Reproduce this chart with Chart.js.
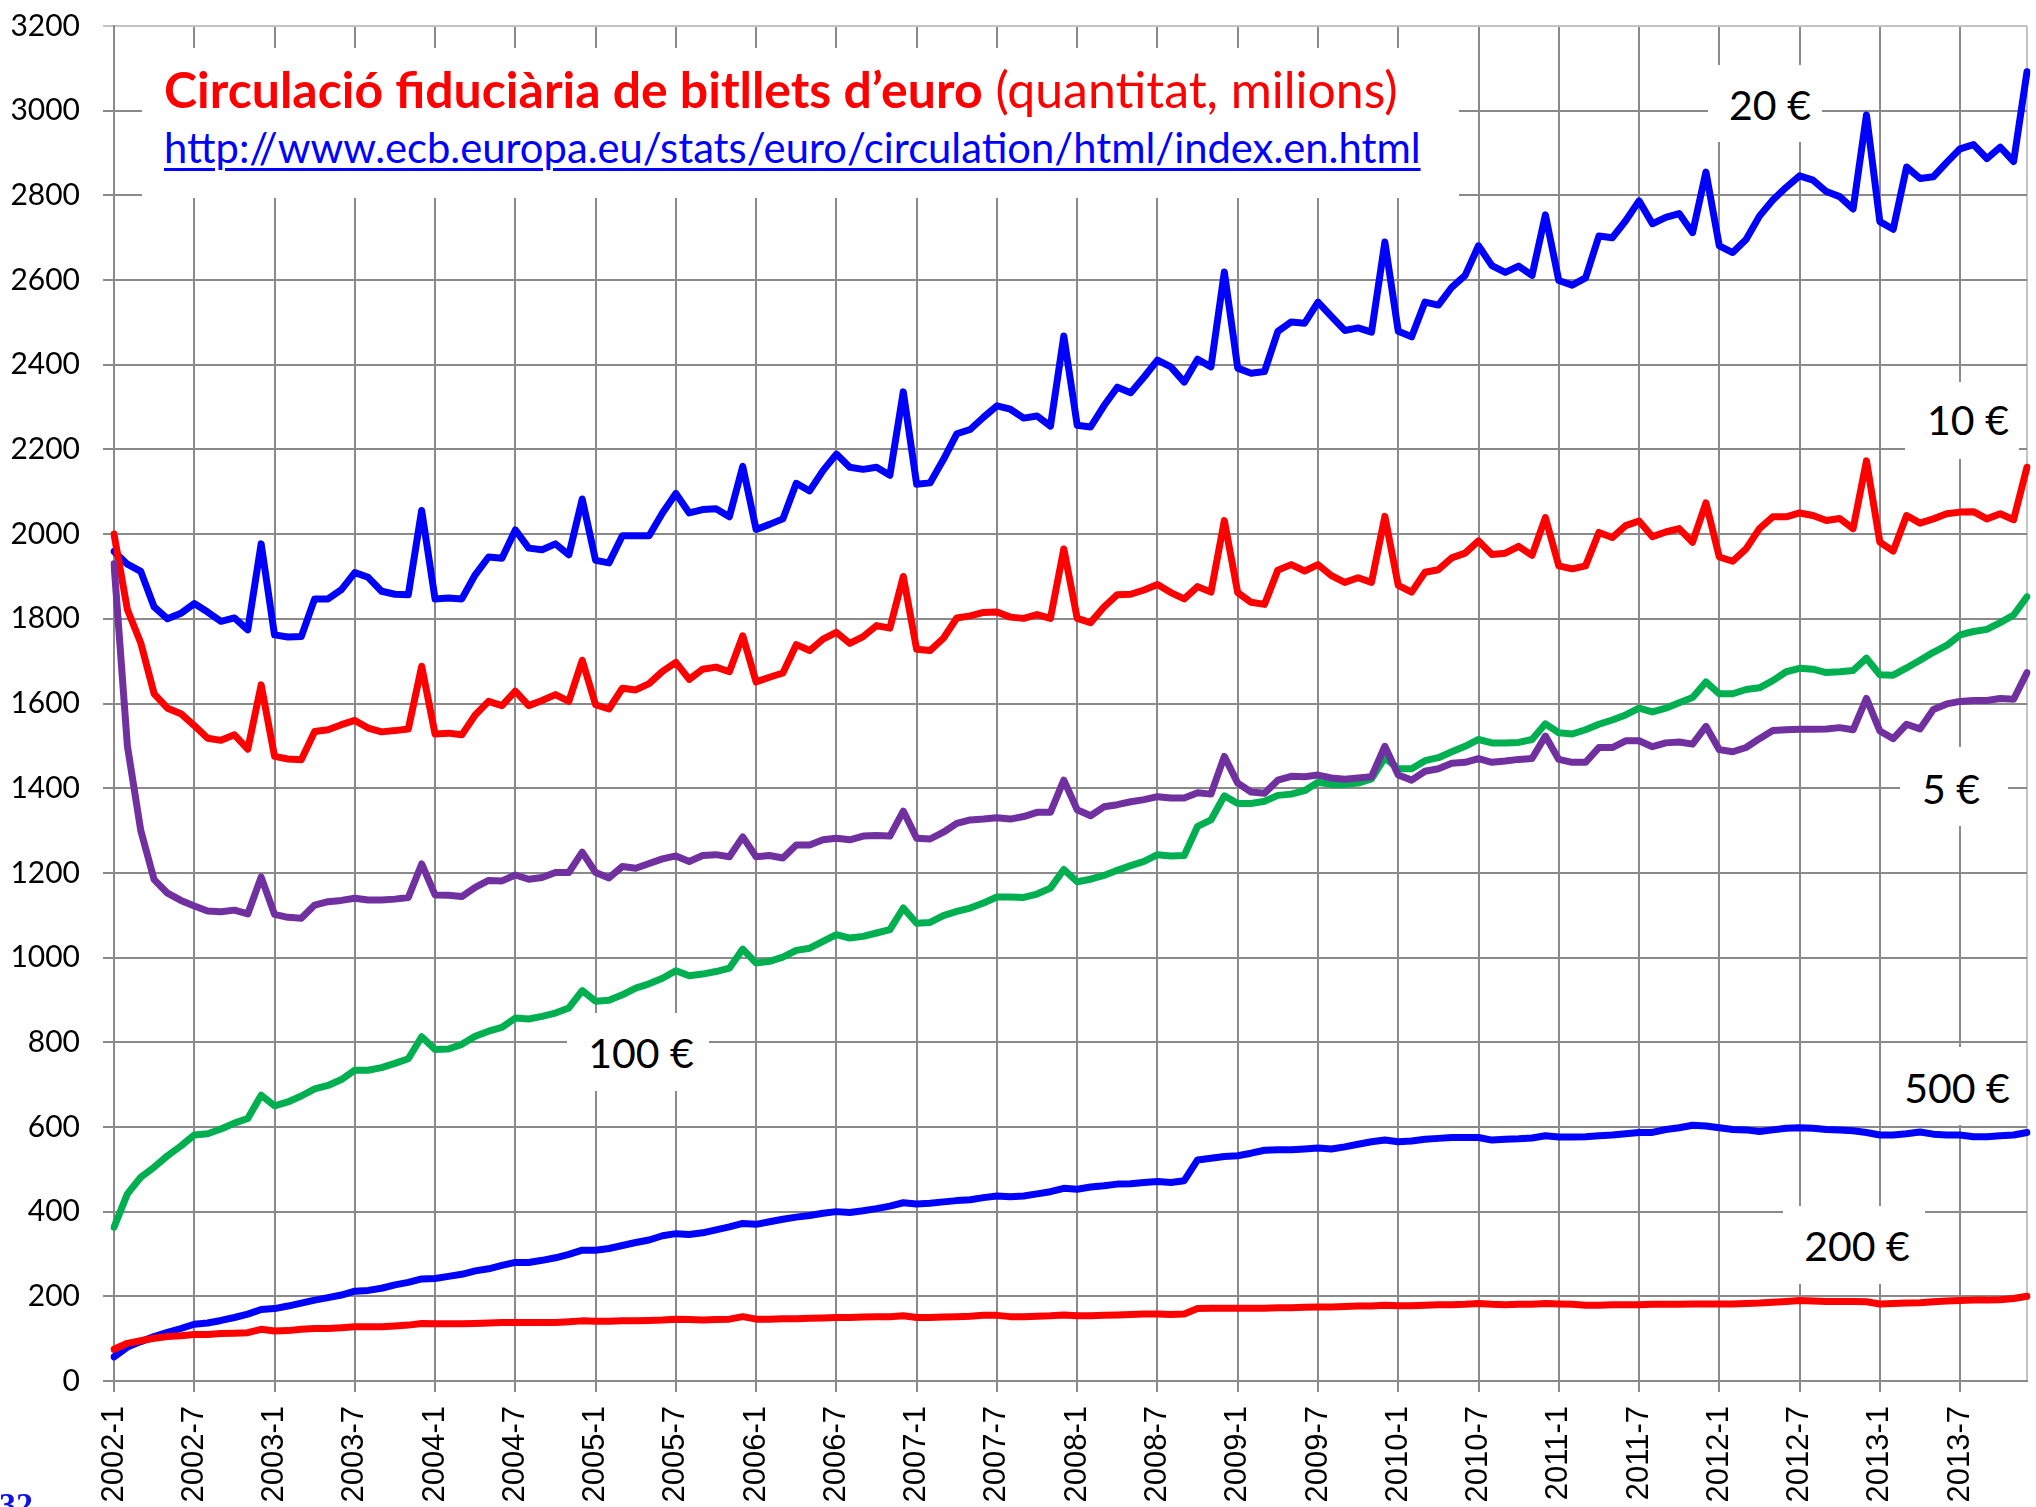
<!DOCTYPE html>
<html>
<head>
<meta charset="utf-8">
<script src="https://cdn.jsdelivr.net/npm/chart.js@4.4.1/dist/chart.umd.min.js"></script>
<style>
  html, body { margin: 0; padding: 0; background: #fff; overflow: hidden; }
  #wrap { position: relative; width: 2036px; height: 1507px; overflow: hidden; }
  #chart { position: absolute; left: 0; top: 0; }
  .box { position: absolute; background: #fff; }
  .txt { position: absolute; white-space: nowrap; line-height: 1.2; font-family: Lato, "Noto Sans", sans-serif; }
</style>
</head>
<body>
<div id="wrap">
  <canvas id="chart" width="2036" height="1507"></canvas>
</div>
<script>
// ---- data (quantity of banknotes in circulation, millions) ----
const years = [2002, 2003, 2004, 2005, 2006, 2007, 2008, 2009, 2010, 2011, 2012, 2013];
const monthLabels = [];
years.forEach(y => { for (let m = 1; m <= 12; m++) monthLabels.push(y + '-' + m); });

const eur20 = [
  1959,1929,1912,1828,1800,1813,1836,1816,1794,1802,1774,1977,
  1762,1757,1758,1847,1847,1869,1909,1898,1865,1858,1857,2056,
  1847,1849,1847,1904,1946,1943,2010,1967,1963,1977,1951,2083,
  1938,1932,1996,1996,1996,2050,2096,2050,2058,2060,2041,2160,
  2011,2023,2036,2120,2102,2150,2189,2158,2153,2158,2139,2336,
  2118,2121,2176,2237,2247,2276,2303,2295,2274,2279,2255,2468,
  2257,2253,2303,2347,2334,2371,2411,2395,2359,2413,2395,2619,
  2392,2380,2384,2479,2501,2498,2548,2514,2481,2487,2477,2690,
  2479,2466,2548,2541,2583,2611,2681,2634,2618,2633,2611,2754,
  2599,2588,2605,2704,2700,2740,2787,2733,2748,2757,2712,2855,
  2681,2665,2696,2751,2789,2819,2846,2836,2809,2797,2768,2990,
  2738,2720,2867,2840,2844,2878,2910,2920,2887,2914,2880,3092
];
const eur10 = [
  2000,1822,1743,1623,1589,1576,1548,1518,1513,1526,1492,1644,
  1475,1469,1467,1534,1538,1550,1560,1542,1533,1536,1540,1688,
  1528,1530,1526,1573,1605,1595,1629,1595,1607,1621,1605,1702,
  1597,1587,1636,1632,1647,1676,1697,1657,1681,1686,1675,1760,
  1651,1662,1672,1739,1725,1752,1768,1742,1758,1784,1778,1900,
  1728,1725,1754,1802,1807,1815,1816,1804,1801,1810,1801,1965,
  1801,1791,1828,1857,1858,1868,1881,1862,1847,1876,1863,2032,
  1862,1839,1834,1915,1928,1913,1928,1902,1886,1897,1886,2042,
  1879,1863,1910,1916,1944,1955,1984,1952,1955,1971,1950,2039,
  1925,1918,1925,2004,1992,2020,2031,1994,2005,2013,1981,2074,
  1946,1936,1965,2013,2041,2041,2050,2044,2032,2037,2013,2173,
  1981,1960,2044,2026,2036,2048,2052,2053,2036,2048,2034,2158
];
const eur5 = [
  1930,1500,1300,1184,1152,1135,1122,1110,1108,1112,1103,1190,
  1102,1095,1093,1124,1132,1135,1140,1136,1136,1138,1142,1221,
  1148,1147,1144,1166,1182,1181,1195,1185,1189,1201,1201,1249,
  1201,1188,1215,1211,1222,1233,1240,1227,1241,1243,1238,1285,
  1238,1241,1235,1266,1266,1278,1282,1278,1287,1288,1287,1346,
  1282,1280,1296,1317,1325,1327,1330,1327,1333,1343,1343,1419,
  1349,1335,1356,1361,1368,1373,1380,1377,1377,1389,1386,1475,
  1412,1391,1388,1419,1428,1427,1431,1424,1421,1424,1427,1499,
  1431,1419,1440,1446,1459,1461,1470,1461,1464,1468,1470,1523,
  1468,1461,1461,1496,1496,1512,1512,1498,1507,1509,1504,1546,
  1491,1486,1496,1517,1536,1538,1539,1539,1540,1543,1538,1612,
  1535,1517,1551,1540,1586,1599,1605,1607,1607,1612,1610,1673
];
const eur100 = [
  363,442,481,505,532,555,581,584,595,609,620,675,
  650,659,673,690,698,712,734,734,740,750,761,813,
  783,784,795,814,826,835,857,855,861,869,881,922,
  897,899,912,928,938,951,969,957,961,967,975,1020,
  987,991,1001,1017,1022,1038,1054,1046,1050,1058,1066,1117,
  1081,1083,1099,1109,1117,1129,1143,1143,1142,1150,1164,1208,
  1179,1185,1194,1206,1217,1227,1243,1240,1241,1310,1325,1382,
  1364,1364,1369,1383,1386,1394,1414,1409,1409,1412,1422,1472,
  1446,1446,1465,1472,1486,1499,1515,1507,1507,1508,1515,1552,
  1531,1528,1538,1551,1561,1573,1589,1580,1589,1602,1614,1651,
  1623,1623,1633,1637,1654,1675,1683,1681,1673,1675,1678,1707,
  1668,1667,1684,1702,1721,1737,1762,1770,1775,1791,1809,1852
];
const eur500 = [
  57,80,93,105,115,124,134,137,143,150,158,169,
  171,177,184,191,197,203,212,214,219,227,233,241,
  242,247,252,260,265,273,280,280,285,291,299,309,
  309,313,320,327,333,343,348,346,350,357,364,372,
  370,376,382,387,391,396,400,398,402,407,413,421,
  418,420,423,426,428,433,437,435,437,442,447,455,
  453,458,461,465,466,469,471,469,473,522,526,530,
  532,538,545,546,546,548,550,548,553,559,565,569,
  565,567,571,573,575,575,575,569,571,572,574,579,
  576,576,577,579,581,584,587,587,594,598,604,602,
  598,594,593,589,593,597,598,597,594,593,591,587,
  581,581,584,588,583,581,581,577,577,579,581,587
];
const eur200 = [
  75,89,95,101,105,107,110,110,112,113,114,122,
  118,119,122,124,124,126,128,128,128,130,132,136,
  135,135,135,136,137,138,138,138,138,138,140,142,
  141,141,142,142,143,144,146,145,144,145,146,152,
  146,146,147,147,148,149,150,150,151,152,152,154,
  150,150,151,152,153,155,155,152,152,153,154,156,
  154,154,155,156,157,158,158,157,158,171,172,172,
  172,172,172,173,173,174,175,175,176,177,177,179,
  178,178,179,180,180,181,183,181,180,181,181,183,
  182,181,179,179,180,180,180,181,181,181,182,182,
  182,182,183,184,186,188,190,189,188,188,188,187,
  182,183,184,185,187,189,190,191,191,192,195,200
];

const seriesNames = ['20 €', '10 €', '5 €', '100 €', '500 €', '200 €'];
const titleBold = 'Circulació fiduciària de bitllets d’euro';
const titleRest = ' (quantitat, milions)';
const sourceUrl = 'http://www.ecb.europa.eu/stats/euro/circulation/html/index.en.html';

const gridGray = '#8a8a8a';
const edgeGray = '#c4c4c4';

new Chart(document.getElementById('chart'), {
  type: 'line',
  data: {
    labels: monthLabels,
    datasets: [
      { label: seriesNames[2], data: eur5,   borderColor: '#7030a0' },
      { label: seriesNames[1], data: eur10,  borderColor: '#ff0000' },
      { label: seriesNames[0], data: eur20,  borderColor: '#0000ff' },
      { label: seriesNames[5], data: eur200, borderColor: '#ff0000' },
      { label: seriesNames[4], data: eur500, borderColor: '#0000ff' },
      { label: seriesNames[3], data: eur100, borderColor: '#00b050' }
    ]
  },
  options: {
    responsive: false,
    animation: false,
    events: [],
    layout: { padding: { left: 0, top: 26, right: 9, bottom: 0 } },
    plugins: { legend: { display: false }, tooltip: { enabled: false } },
    elements: {
      point: { radius: 0 },
      line: { tension: 0, borderWidth: 7, borderJoinStyle: 'round', borderCapStyle: 'round', fill: false }
    },
    scales: {
      x: {
        type: 'category',
        offset: false,
        grid: {
          offset: false,
          lineWidth: 2,
          tickLength: 11,
          color: ctx => ctx.index % 6 === 0 ? gridGray : (ctx.index === monthLabels.length - 1 ? edgeGray : 'rgba(0,0,0,0)'),
          tickColor: ctx => ctx.index % 6 === 0 ? gridGray : 'rgba(0,0,0,0)'
        },
        border: { color: gridGray, width: 2 },
        ticks: {
          autoSkip: false,
          minRotation: 90,
          maxRotation: 90,
          padding: 14,
          color: '#000',
          font: { family: '"Liberation Sans", Arial, sans-serif', size: 31 },
          callback: function (v, i) { return i % 6 === 0 ? this.getLabelForValue(v) : ''; }
        },
        afterFit: s => { s.height = 126; s.paddingLeft = 0; s.paddingRight = 0; }
      },
      y: {
        min: 0,
        max: 3200,
        grid: {
          lineWidth: 2,
          tickLength: 11,
          color: ctx => (ctx.tick && ctx.tick.value === 3200) ? edgeGray : gridGray
        },
        border: { color: gridGray, width: 2 },
        ticks: {
          stepSize: 200,
          padding: 23,
          color: '#000',
          font: { family: 'Lato, "Noto Sans", sans-serif', size: 30 },
          callback: v => String(v)
        },
        afterFit: s => { s.width = 114; s.paddingTop = 0; s.paddingBottom = 0; }
      }
    }
  }
});

// ---- text boxes drawn over the plot (white background hides the grid) ----
const wrap = document.getElementById('wrap');

function addBox(x, y, w, h) {
  const b = document.createElement('div');
  b.className = 'box';
  b.style.cssText = `left:${x}px;top:${y}px;width:${w}px;height:${h}px`;
  wrap.appendChild(b);
}

// put an element so that its baseline sits at `base`; x is left edge or centre
function placeText(el, x, base, size, opt) {
  opt = opt || {};
  el.classList.add('txt');
  el.style.left = '0px';
  el.style.top = '0px';
  el.style.fontSize = size + 'px';
  const mark = document.createElement('span');
  mark.style.cssText = 'display:inline-block;width:0;height:0;vertical-align:baseline';
  el.appendChild(mark);
  wrap.appendChild(el);
  if (opt.width) {
    const w0 = el.getBoundingClientRect().width;
    el.style.fontSize = (size * opt.width / w0) + 'px';
  }
  const r = el.getBoundingClientRect();
  const off = mark.getBoundingClientRect().top - r.top;
  el.style.left = (opt.center ? x - r.width / 2 : x) + 'px';
  el.style.top = (base - off) + 'px';
}

document.fonts.ready.then(() => {
  // title block
  addBox(142, 48, 1317, 150);
  const t = document.createElement('div');
  t.style.color = '#ff0000';
  t.innerHTML = '<span style="font-weight:bold"></span><span></span>';
  t.children[0].textContent = titleBold;
  t.children[1].textContent = titleRest;
  placeText(t, 164, 108, 46, { width: 1234 });

  const u = document.createElement('div');
  u.textContent = sourceUrl;
  u.style.color = '#0000ff';
  u.style.textDecoration = 'underline';
  u.style.textDecorationThickness = '3px';
  u.style.textUnderlineOffset = '5px';
  placeText(u, 164, 163, 40, { width: 1257 });

  // series labels: [name index, box x, y, w, h, text centre x, baseline]
  const tags = [
    [0, 1708, 65, 114, 77, 1770, 120],
    [1, 1905, 382, 114, 77, 1968, 435],
    [2, 1900, 747, 108, 79, 1951, 804],
    [3, 567, 1013, 142, 78, 641, 1068],
    [4, 1882, 1047, 138, 78, 1957, 1103],
    [5, 1783, 1206, 142, 78, 1857, 1261]
  ];
  tags.forEach(([k, bx, by, bw, bh, cx, base]) => {
    addBox(bx, by, bw, bh);
    const el = document.createElement('div');
    el.textContent = seriesNames[k];
    el.style.color = '#000';
    placeText(el, cx, base, 41, { center: true });
  });

  // page number cut off at the bottom edge
  const pg = document.createElement('div');
  pg.textContent = '32';
  pg.style.cssText = 'color:#1010e8;font-weight:bold;font-family:"Liberation Serif",serif';
  placeText(pg, -1, 1516, 34);
  pg.style.fontFamily = '"Liberation Serif", serif';
});
</script>
</body>
</html>
